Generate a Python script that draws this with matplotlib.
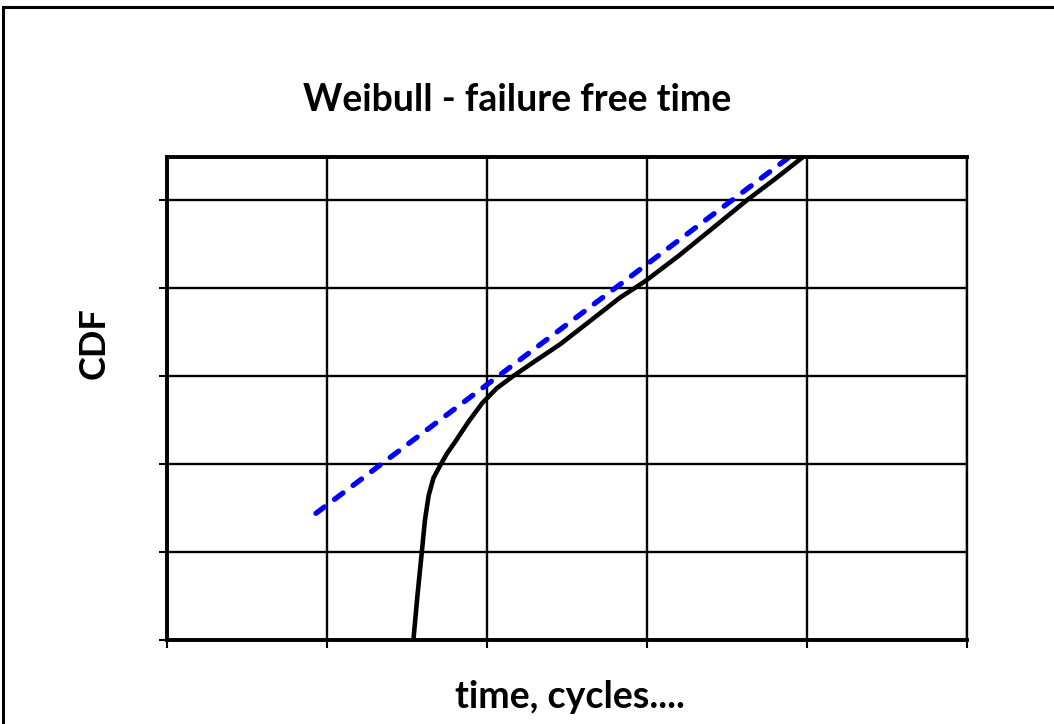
import matplotlib
matplotlib.use("Agg")
import matplotlib.pyplot as plt
from matplotlib.patches import Rectangle

# data (x in grid units, y in grid units)
fit_x = [1.54, 1.565, 1.592, 1.612, 1.635, 1.665, 1.706, 1.75, 1.80, 1.88, 1.969, 2.06, 2.156, 2.30, 2.456, 2.64, 2.83, 2.99, 3.20, 3.41, 3.625, 3.80, 3.975]
fit_y = [0.0, 0.50, 0.989, 1.36, 1.64, 1.84, 1.98, 2.12, 2.25, 2.47, 2.69, 2.86, 2.99, 3.17, 3.36, 3.62, 3.89, 4.08, 4.37, 4.68, 5.0, 5.24, 5.49]
line_x = [0.931, 3.89]
line_y = [1.44, 5.49]
title = "Weibull - failure free time"
xlabel = "time, cycles...."
ylabel = "CDF"

plt.rcParams['font.family'] = ['Lato', 'DejaVu Sans']

fig = plt.figure(figsize=(10.54, 7.24), dpi=100)
ax = fig.add_axes([167/1054, 1-640/724, 800/1054, 483/724])

ax.plot(fit_x, fit_y, color='black', lw=3.3, solid_capstyle='butt', solid_joinstyle='round', zorder=3)
ax.plot(line_x, line_y, color='#0000ff', lw=3.8, ls=(0, (2.0, 2.4)), dash_capstyle='round', zorder=4)

ax.set_xlim(0, 5)
ax.set_ylim(0, 5.49)
ax.set_xticks([0, 1, 2, 3, 4, 5])
ax.set_yticks([0, 1, 2, 3, 4, 5])
ax.set_xticklabels([])
ax.set_yticklabels([])
ax.tick_params(direction='out', length=6, width=1.5, color='black')
ax.grid(True, color='black', lw=1.7)
ax.set_axisbelow(True)
for s in ax.spines.values():
    s.set_linewidth(2.8)
    s.set_color('black')
    s.set_zorder(5)
ax.spines['right'].set_linewidth(1.7)

fig.text(517/1054, 1-100/724, title, ha='center', va='center', fontsize=27, fontweight='bold')
fig.text(570/1054, 1-697/724, xlabel, ha='center', va='center', fontsize=27, fontweight='bold')
fig.text(94/1054, 1-343/724, ylabel, ha='center', va='center', fontsize=26, fontweight='bold', rotation=90)

fig.patches.append(Rectangle((3/1054, -0.2), 1.2, 1.19 - 7/724 + 0.01, transform=fig.transFigure,
                             fill=False, edgecolor='black', lw=2.2))

fig.savefig('out.png', dpi=100)
